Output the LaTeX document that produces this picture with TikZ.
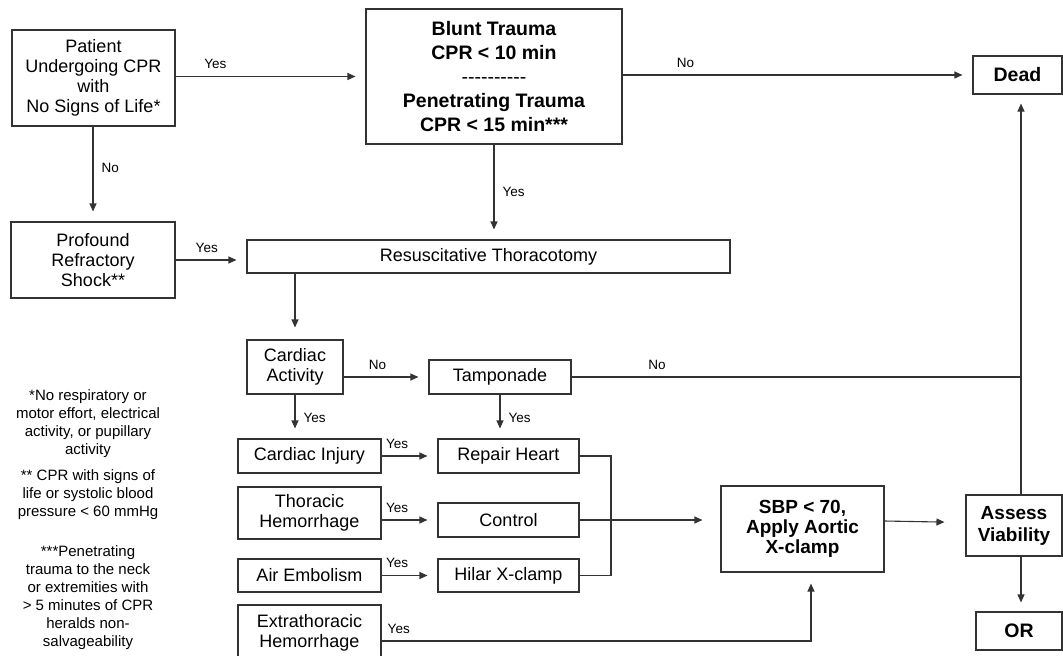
\documentclass[tikz,border=0pt]{standalone}
\usepackage{fontspec}
\setmainfont{Liberation Sans}
\usetikzlibrary{arrows.meta, positioning}
\definecolor{linegray}{gray}{0.2}
\newcommand{\dashrow}{-\kern0pt-\kern0pt-\kern0pt-\kern0pt-\kern0pt-\kern0pt-\kern0pt-\kern0pt-\kern0pt-}

\begin{document}
\begin{tikzpicture}[
        x=1pt, y=-1pt,
        box/.style={rectangle, draw=linegray, line width=1.1pt, align=center, inner sep=2pt, font=\fontsize{18}{20}\selectfont},
        keybox/.style={box, font=\bfseries\fontsize{19.5}{24}\selectfont},
        arrow/.style={-{Triangle[length=8pt, width=7pt]}, line width=1.1pt, draw=linegray, shorten >=10pt},
        link/.style={line width=1.1pt, draw=linegray},
        lbl/.style={font=\fontsize{13.5}{15}\selectfont, inner sep=2pt},
        note/.style={align=center, font=\fontsize{15}{18}\selectfont}
        ]
        \useasboundingbox (0,0) rectangle (1063,656);

        % Nodes
        \node (patient) [box, minimum width=163pt, minimum height=96pt] at (93.5,78) {Patient\\Undergoing CPR\\with\\No Signs of Life*};
        \node (blunt) [keybox, minimum width=256pt, minimum height=135pt] at (494,76.5) {Blunt Trauma\\CPR < 10 min\\{\mdseries\dashrow}\\Penetrating Trauma\\CPR < 15 min***};
        \node (dead) [keybox, minimum width=89pt, minimum height=38pt] at (1017.5,75) {Dead};
        \node (profound) [box, minimum width=164pt, minimum height=76pt] at (93,260) {Profound\\Refractory\\Shock**};
        \node (resus) [box, minimum width=483pt, minimum height=33pt] at (488.5,256.5) {Resuscitative Thoracotomy};
        \node (cardact) [box, minimum width=96pt, minimum height=54pt] at (295,367) {Cardiac\\Activity};
        \node (tamp) [box, minimum width=142pt, minimum height=34pt] at (500,377) {Tamponade};
        \node (cinj) [box, minimum width=143pt, minimum height=34pt] at (309.5,456) {Cardiac Injury};
        \node (repair) [box, minimum width=141pt, minimum height=34pt] at (508.5,456) {Repair Heart};
        \node (thor) [box, minimum width=143pt, minimum height=52pt] at (309.5,513) {Thoracic\\Hemorrhage};
        \node (control) [box, minimum width=141pt, minimum height=34pt] at (508.5,520) {Control};
        \node (air) [box, minimum width=143pt, minimum height=33pt] at (309.5,575.5) {Air Embolism};
        \node (hilar) [box, minimum width=141pt, minimum height=33pt] at (508.5,575.5) {Hilar X-clamp};
        \node (extra) [box, minimum width=143pt, minimum height=55pt] at (309.5,632.5) {Extrathoracic\\Hemorrhage};
        \node (sbp) [keybox, minimum width=163pt, minimum height=86pt, font=\bfseries\fontsize{19}{20}\selectfont] at (802.5,529) {SBP < 70,\\Apply Aortic\\X-clamp};
        \node (assess) [keybox, minimum width=96pt, minimum height=61pt, font=\bfseries\fontsize{19}{22}\selectfont] at (1014,525.5) {Assess\\Viability};
        \node (orbox) [keybox, minimum width=86pt, minimum height=38pt] at (1019,631) {OR};

        \coordinate (spine) at (1021,377);
        \coordinate (brk) at (611,456);
        \coordinate (sbpfoot) at ([xshift=8.5pt]sbp.south);

        % Footnotes
        \node (note1) [note] at (88,424) {*No respiratory or\\motor effort, electrical\\activity, or pupillary\\activity};
        \node (note2) [note] at (88,495) {** CPR with signs of\\life or systolic blood\\pressure < 60 mmHg};
        \node (note3) [note] at (88,597.5) {***Penetrating\\trauma to the neck\\or extremities with\\> 5 minutes of CPR\\heralds non-\\salvageability};

        % Arrows with labels
        \draw [arrow] (patient.east |- blunt) -- node[lbl, pos=0.21, above=5pt] {Yes} (blunt.west);
        \draw [arrow] (blunt.east |- dead) -- node[lbl, pos=0.18, above=5pt] {No} (dead.west);
        \draw [arrow] (patient.south -| profound) -- node[lbl, pos=0.44, right=6pt] {No} (profound.north);
        \draw [arrow] (blunt.south) -- node[lbl, pos=0.5, right=6pt] {Yes} (blunt.south |- resus.north);
        \draw [arrow] (profound.east) -- node[lbl, pos=0.44, above=5pt] {Yes} (profound.east -| resus.west);
        \draw [arrow, shorten >=12pt] (resus.south -| cardact) -- (cardact.north);
        \draw [arrow] (cardact.east |- tamp) -- node[lbl, pos=0.4, above=5pt] {No} (tamp.west);
        \draw [arrow] (cardact.south) -- node[lbl, pos=0.53, right=6pt] {Yes} (cardact.south |- cinj.north);
        \draw [arrow] (tamp.south) -- node[lbl, pos=0.53, right=6pt] {Yes} (tamp.south |- repair.north);
        \draw [link] (tamp.east) -- node[lbl, pos=0.19, above=5pt] {No} (spine);
        \draw [arrow, shorten >=9pt] (assess.north -| spine) -- (dead.south -| spine);
        \draw [arrow, shorten >=9pt] (assess.south -| spine) -- (orbox.north -| spine);

        \draw [arrow] (cinj.east) -- node[lbl, pos=0.28, above=5pt] {Yes} (cinj.east -| repair.west);
        \draw [arrow] (thor.east |- control) -- node[lbl, pos=0.28, above=5pt] {Yes} (control.west);
        \draw [arrow] (air.east) -- node[lbl, pos=0.28, above=5pt] {Yes} (air.east -| hilar.west);
        \draw [link] (repair.east) -- (brk) -- (brk |- hilar.east) -- (hilar.east);
        \draw [arrow, shorten >=18pt] (control.east) -- (control.east -| sbp.west);
        \draw [arrow, shorten >=21pt] ([yshift=8pt]sbp.east) -- ([yshift=3pt]assess.west);
        \draw [arrow, shorten >=11pt] ([yshift=-8.5pt]extra.east) -| node[lbl, pos=0.02, above=5pt] {Yes} (sbpfoot);

    \end{tikzpicture}
\end{document}
